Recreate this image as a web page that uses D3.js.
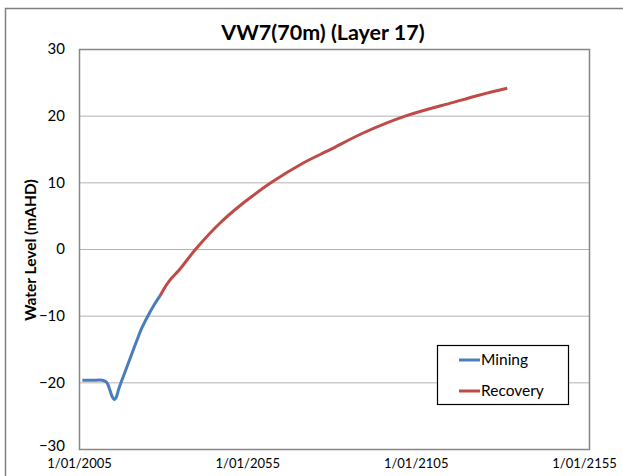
<!DOCTYPE html>
<html><head><meta charset="utf-8">
<script src="https://cdn.jsdelivr.net/npm/d3@7"></script>
<style>body{margin:0;background:#fff}svg{display:block}text{font-family:Lato,"Open Sans",sans-serif}</style>
</head><body><svg id="c" width="623" height="476"></svg>
<script>
const miningYears = [2006.0, 2009.0, 2012.0, 2013.2, 2014.2, 2014.9, 2015.5, 2016.1, 2016.8, 2017.8, 2019.3, 2020.7, 2022.2, 2023.7, 2025.5, 2027.3, 2029.1];
const miningLevels = [-19.7, -19.7, -19.7, -20.0, -21.2, -22.2, -22.6, -22.2, -21.0, -19.6, -17.6, -15.7, -13.7, -11.8, -10.0, -8.4, -7.0];
const recoveryYears = [2029.1, 2031.5, 2035.0, 2039.7, 2046.9, 2053.8, 2062.2, 2071.6, 2079.6, 2089.4, 2102.3, 2116.2, 2124.1, 2132.2];
const recoveryLevels = [-7.0, -5.0, -3.0, 0, 3.9, 6.9, 10.0, 12.9, 14.9, 17.4, 20.0, 22.0, 23.1, 24.1];
const xTickYears = [2005, 2055, 2105, 2155];
const xTickLabels = ["1/01/2005", "1/01/2055", "1/01/2105", "1/01/2155"];
const yTicks = [-30, -20, -10, 0, 10, 20, 30];
const seriesNames = ["Mining", "Recovery"];
const seriesColors = ["#4a7ebb", "#be4b48"];

const svg = d3.select("#c");
const L = 79, R = 590, T = 49, B = 449;
svg.append("rect").attr("x", 5.5).attr("y", 8.5).attr("width", 640).attr("height", 500)
  .attr("fill", "#fff").attr("stroke", "#7f7f7f").attr("stroke-width", 1.5);

const x = d3.scaleLinear().domain([2005, 2005 + (R - L) / ((584 - L) / 150)]).range([L, R]);
const y = d3.scaleLinear().domain([-30, 30]).range([B, T]);

// gridlines
svg.append("g").selectAll("line").data(yTicks.filter(v => v > -30 && v < 30)).join("line")
  .attr("x1", L).attr("x2", R).attr("y1", d => y(d) + 0.5).attr("y2", d => y(d) + 0.5)
  .attr("stroke", "#b3b3b3").attr("stroke-width", 1);

// plot border
svg.append("rect").attr("x", L + 0.5).attr("y", T + 0.5).attr("width", R - L - 1).attr("height", B - T)
  .attr("fill", "none").attr("stroke", "#868686").attr("stroke-width", 1.5);

// y axis labels
const yAxis = d3.axisLeft(y).tickValues(yTicks).tickSize(0).tickPadding(14);
const ga = svg.append("g").attr("transform", `translate(${L},0)`).call(yAxis);
ga.select(".domain").remove();
ga.selectAll("text").attr("font-size", 15).attr("fill", "#000").attr("font-family", "Lato, sans-serif")
  .attr("dy", (d) => d === -30 ? "0.1em" : "0.32em");

// x axis labels
const xAxis = d3.axisBottom(x).tickValues(xTickYears).tickFormat((d, i) => xTickLabels[i]).tickSize(0).tickPadding(10);
const gx = svg.append("g").attr("transform", `translate(0,${B})`).call(xAxis);
gx.select(".domain").remove();
gx.selectAll("text").attr("font-size", 13).attr("fill", "#000").attr("font-family", "Lato, sans-serif");

// lines
const line = d3.line().x(d => x(d[0])).y(d => y(d[1])).curve(d3.curveCatmullRom.alpha(0.5));
const mining = miningYears.map((t, i) => [t, miningLevels[i]]);
const recovery = recoveryYears.map((t, i) => [t, recoveryLevels[i]]);
[mining, recovery].forEach((data, i) => {
  svg.append("path").datum(data).attr("d", line).attr("fill", "none")
    .attr("stroke", seriesColors[i]).attr("stroke-width", 3).attr("stroke-linejoin", "round");
});

// title
svg.append("text").attr("x", 323).attr("y", 40).attr("text-anchor", "middle")
  .attr("font-size", 21.5).attr("font-weight", "bold").text("VW7(70m) (Layer 17)");

// y title
svg.append("text").attr("transform", "translate(36,250) rotate(-90)").attr("text-anchor", "middle")
  .attr("font-size", 15.5).attr("font-weight", "bold").text("Water Level (mAHD)");

// legend
const lg = svg.append("g");
lg.append("rect").attr("x", 437.5).attr("y", 345.5).attr("width", 131).attr("height", 59)
  .attr("fill", "#fff").attr("stroke", "#000").attr("stroke-width", 1.2);
seriesNames.forEach((n, i) => {
  const yy = 360 + i * 31;
  lg.append("line").attr("x1", 459).attr("x2", 480).attr("y1", yy).attr("y2", yy)
    .attr("stroke", seriesColors[i]).attr("stroke-width", 3);
  lg.append("text").attr("x", 481).attr("y", yy + 5).attr("font-size", 15.5).text(n);
});
</script></body></html>
